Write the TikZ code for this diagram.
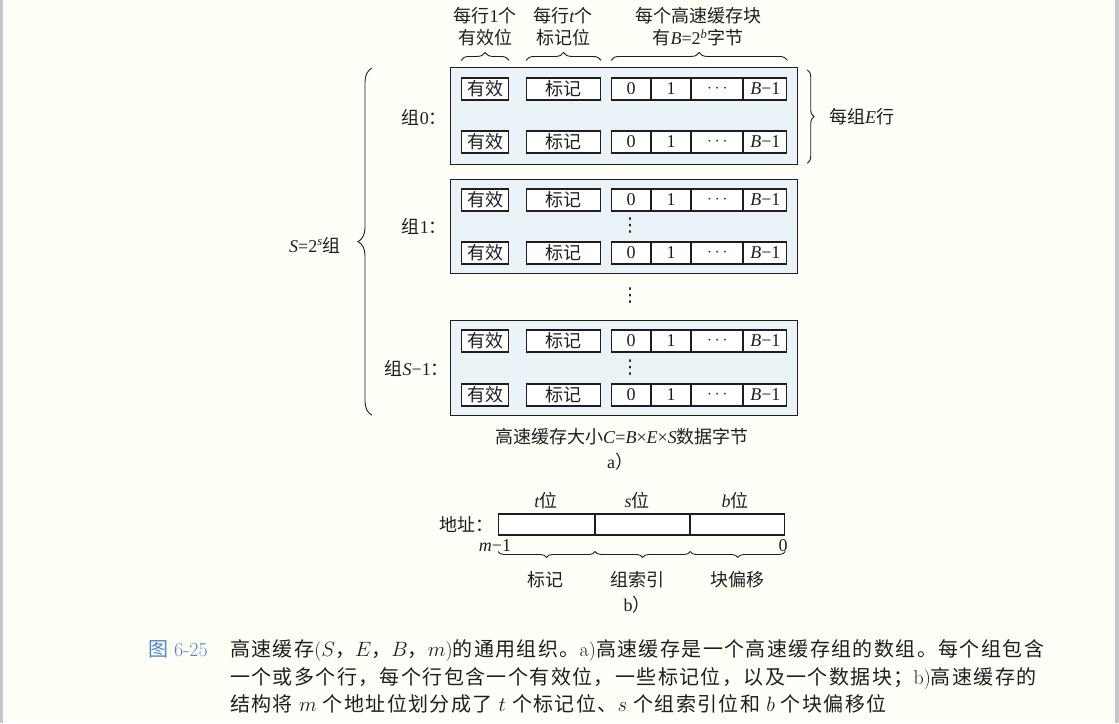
\documentclass[tikz,border=0pt]{standalone}
\usepackage{fontspec}
\usetikzlibrary{decorations.pathreplacing,calc}
\newfontfamily\tm{Liberation Serif}
\newfontfamily\dv{DejaVu Sans}
\newfontfamily\cjk{Noto Sans CJK SC}
\newfontfamily\cjkwide{Noto Sans CJK SC}[LetterSpace=7]
\newcommand\zh[1]{{\cjk #1}}
\newcommand\zhw[1]{{\cjkwide #1}}
\definecolor{ink}{HTML}{1E1E1E}
\definecolor{setblue}{HTML}{E9F3F8}
\definecolor{paper}{HTML}{FFFEF7}
\definecolor{edge}{HTML}{C6C6C6}
\definecolor{figblue}{HTML}{4F86C6}

% one cache line: valid bit, tag, and the data block cells
\newcommand\cacherow[2]{%
  \node[cell, minimum width=47] (#1v) at (461,#2) {\zh{有效}};
  \node[cell, minimum width=74] (#1t) at (526,#2) {\zh{标记}};
  \node[cell, minimum width=39] (#1a) at (611,#2) {0};
  \node[cell, minimum width=39] (#1b) at (#1a.east) {1};
  \node[cell, minimum width=51] (#1c) at (#1b.east) {$\cdots$};
  \node[cell, minimum width=43] (#1d) at (#1c.east) {\textit{B}−1};
}

\begin{document}
\begin{tikzpicture}[x=1pt,y=-1pt,
  lbl/.style={font=\fontsize{18}{22}\selectfont\tm, inner sep=0, text=ink},
  vdot/.style={font=\fontsize{19}{22}\selectfont\dv, inner sep=0, text=ink},
  captxt/.style={font=\fontsize{20}{24}\selectfont, inner sep=0, text=ink, anchor=base west},
  cell/.style={draw=ink, line width=1.1pt, fill=white, minimum height=22pt,
    inner sep=0, anchor=west, text=ink, font=\fontsize{18}{22}\selectfont\tm},
  abox/.style={draw=ink, line width=1.1pt, fill=white, minimum height=21pt,
    inner sep=0, anchor=west},
  setbox/.style={draw=ink, line width=1.2pt, fill=setblue, inner sep=0,
    anchor=north west, minimum width=347},
  brc/.style={draw=ink, line width=0.9pt, decorate,
    decoration={brace, amplitude=#1}},
  brc/.default=6pt,
]
% page
\fill[paper] (0,0) rectangle (1119,723);
\useasboundingbox (0,0) rectangle (1119,723);
\fill[edge] (0,0) rectangle (3,723);
\fill[edge] (1115,0) rectangle (1119,723);

% ---- a) the sets ----
\node[setbox, minimum height=97] (s0) at (450,67) {};
\node[setbox, minimum height=94] (s1) at (450,179) {};
\node[setbox, minimum height=95] (s2) at (450,320) {};

\cacherow{r0}{89}
\cacherow{r1}{142}
\cacherow{r2}{200}
\cacherow{r3}{253}
\cacherow{r4}{341}
\cacherow{r5}{395}

\node[vdot] (v1) at (630,226) {⋮};
\node[vdot] (v2) at (630,368) {⋮};
\node[vdot] (vm) at (630,296) {⋮};

\node[lbl, anchor=east] (l0) at (447,117) {\zh{组}0\zh{：}};
\node[lbl, anchor=east] (l1) at (447,226) {\zh{组}1\zh{：}};
\node[lbl, anchor=east] (l2) at (449,368) {\zh{组}\textit{S}−1\zh{：}};

% header
\node[lbl, align=center] (h1) at (485,27) {\zh{每行}1\zh{个}\\\zh{有效位}};
\node[lbl, align=center] (h2) at (563,27) {\zh{每行}\textit{t}\zh{个}\\\zh{标记位}};
\node[lbl, align=center] (h3) at (698,27) {\zh{每个高速缓存块}\\\zh{有}\textit{B}=2\textsuperscript{\textit{b}}\zh{字节}};
\draw[brc=8pt] ([yshift=17pt]r0v.north west) -- ([yshift=17pt]r0v.north east);
\draw[brc=8pt] ([yshift=17pt]r0t.north west) -- ([yshift=17pt]r0t.north east);
\draw[brc=8pt] ([yshift=17pt]r0a.north west) -- ([yshift=17pt]r0d.north east);

% lines per set
\draw[brc=7pt] ([shift={(9pt,-3pt)}]s0.north east) -- ([shift={(9pt,2pt)}]s0.south east);
\node[lbl, anchor=west] (e0) at (829,117) {\zh{每组}\textit{E}\zh{行}};

% number of sets
\draw[brc=14pt] ([shift={(-78pt,1pt)}]s2.south west) -- ([shift={(-78pt,-1pt)}]s0.north west);
\node[lbl, anchor=east] (sl) at (341,245) {\textit{S}=2\textsuperscript{\textit{s}}\zh{组}};

\node[lbl] (csz) at (622,437) {\zh{高速缓存大小}\textit{C}=\textit{B}×\textit{E}×\textit{S}\zh{数据字节}};
\node[lbl] (ca) at (620,462) {a\zh{）}};

% ---- b) the address ----
\node[abox, minimum width=96] (at) at (498,524.5) {};
\node[abox, minimum width=94] (as) at (at.east) {};
\node[abox, minimum width=94] (ab) at (as.east) {};
\node[lbl, anchor=east] (ad) at (494,524) {\zh{地址：}};
\node[lbl] (tt) at (546,501) {\textit{t}\zh{位}};
\node[lbl] (ts) at (637,501) {\textit{s}\zh{位}};
\node[lbl] (tb) at (735,501) {\textit{b}\zh{位}};
\node[lbl] (mhi) at (495,546) {\textit{m}−1};
\node[lbl] (mlo) at (783,546) {0};
\draw[brc=6pt] ([yshift=-27pt]at.east) -- ([yshift=-27pt]at.west);
\draw[brc=6pt] ([yshift=-27pt]as.east) -- ([yshift=-27pt]as.west);
\draw[brc=6pt] ([yshift=-27pt]ab.east) -- ([yshift=-27pt]ab.west);
\node[lbl] (nt) at (545,580) {\zh{标记}};
\node[lbl] (ns) at (637,580) {\zh{组索引}};
\node[lbl] (nb) at (737,580) {\zh{块偏移}};
\node[lbl] (cb) at (637,605) {b\zh{）}};

% ---- caption ----
\node[captxt, text=figblue] (fig) at (148,656) {\zhw{图} 6-25};
\node[captxt] (c1) at (230,656) {\zhw{高速缓存}($S$\zhw{，}$E$\zhw{，}$B$\zhw{，}$m$)\zhw{的通用组织。}a)\zhw{高速缓存是一个高速缓存组的数组。每个组包含}};
\node[captxt] (c2) at (230,684) {\zhw{一个或多个行，每个行包含一个有效位，一些标记位，以及一个数据块；}b)\zhw{高速缓存的}};
\node[captxt] (c3) at (230,711) {\zhw{结构将} $m$ \zhw{个地址位划分成了} $t$ \zhw{个标记位、}$s$ \zhw{个组索引位和} $b$ \zhw{个块偏移位}};
\end{tikzpicture}
\end{document}
